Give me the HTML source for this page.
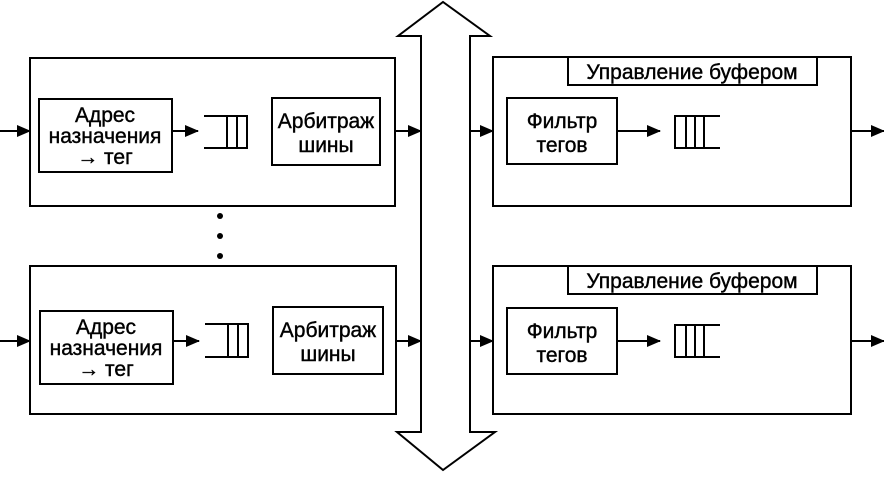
<!DOCTYPE html>
<html><head><meta charset="utf-8"><style>
html,body{margin:0;padding:0;background:#fff;}
svg text{font-family:"Liberation Sans",sans-serif;font-size:21px;fill:#000;text-anchor:middle;stroke:#000;stroke-width:0.4;}
</style></head><body>
<svg width="884" height="473" viewBox="0 0 884 473" xmlns="http://www.w3.org/2000/svg">
<defs><marker id="a" markerWidth="14" markerHeight="14" refX="13" refY="7" orient="auto" markerUnits="userSpaceOnUse"><path d="M0,1 L14,7 L0,13 Z" fill="#000"/></marker></defs>
<g fill="none" stroke="#000" stroke-width="2">
<path d="M421,36 L398,36 L443,2 L490,36 L470,36 L470,432 L495,432 L443,470 L397,432 L421,432 Z" fill="#fff"/>
<rect x="30" y="58" width="365" height="148"/>
<rect x="39" y="99" width="133" height="73"/>
<rect x="272" y="98" width="108" height="67"/>
<line x1="0" y1="131" x2="30" y2="131" marker-end="url(#a)"/>
<line x1="172" y1="131" x2="198" y2="131" marker-end="url(#a)"/>
<path d="M204,116 H247 V148 H204 M227,116 V148 M237,116 V148"/>
<line x1="395" y1="131" x2="421" y2="131" marker-end="url(#a)"/>
<rect x="30" y="266" width="366" height="148"/>
<rect x="40" y="311" width="133" height="73"/>
<rect x="273" y="307" width="110" height="67"/>
<line x1="0" y1="341" x2="30" y2="341" marker-end="url(#a)"/>
<line x1="173" y1="341" x2="199" y2="341" marker-end="url(#a)"/>
<path d="M205,324 H248 V357 H205 M228,324 V357 M238,324 V357"/>
<line x1="396" y1="341" x2="421" y2="341" marker-end="url(#a)"/>
<rect x="493" y="57" width="358" height="149"/>
<rect x="568" y="57" width="249" height="28" fill="#fff"/>
<rect x="507" y="98" width="110" height="66"/>
<line x1="470" y1="131" x2="493" y2="131" marker-end="url(#a)"/>
<line x1="617" y1="131" x2="660" y2="131" marker-end="url(#a)"/>
<path d="M720,116 H675 V148 H720 M686,116 V148 M695,116 V148 M704,116 V148"/>
<line x1="851" y1="131" x2="884" y2="131" marker-end="url(#a)"/>
<rect x="493" y="266" width="358" height="148"/>
<rect x="568" y="266" width="249" height="28" fill="#fff"/>
<rect x="507" y="308" width="110" height="66"/>
<line x1="470" y1="341" x2="493" y2="341" marker-end="url(#a)"/>
<line x1="617" y1="341" x2="660" y2="341" marker-end="url(#a)"/>
<path d="M720,325 H675 V357 H720 M686,325 V357 M695,325 V357 M704,325 V357"/>
<line x1="851" y1="341" x2="884" y2="341" marker-end="url(#a)"/>
</g>
<circle cx="220" cy="216" r="3"/><circle cx="220" cy="236" r="3"/><circle cx="220" cy="256" r="3"/>
<text x="105" y="122">Адрес</text><text x="105" y="143">назначения</text><text x="105" y="164">→ тег</text>
<text x="326" y="128">Арбитраж</text><text x="326" y="152">шины</text>
<text x="106" y="334">Адрес</text><text x="106" y="355">назначения</text><text x="106" y="376">→ тег</text>
<text x="328" y="337">Арбитраж</text><text x="328" y="361">шины</text>
<text x="692" y="79">Управление буфером</text>
<text x="692" y="288">Управление буфером</text>
<text x="562" y="128">Фильтр</text><text x="562" y="152">тегов</text>
<text x="562" y="338">Фильтр</text><text x="562" y="362">тегов</text>
</svg>
</body></html>
